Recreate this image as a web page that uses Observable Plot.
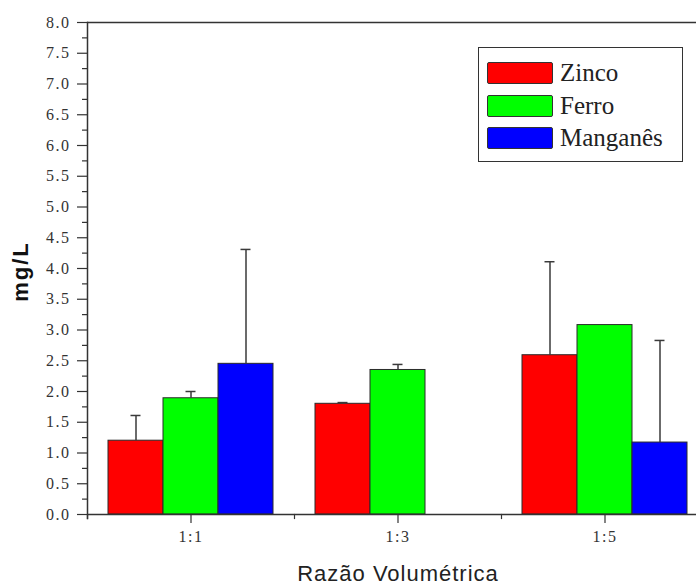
<!DOCTYPE html>
<html><head><meta charset="utf-8">
<script src="https://cdn.jsdelivr.net/npm/d3@7"></script>
<script src="https://cdn.jsdelivr.net/npm/@observablehq/plot@0.6"></script>
<style>
html,body{margin:0;padding:0;background:#fff;overflow:hidden}
#wrap{position:relative;width:696px;height:586px;overflow:hidden}
#wrap svg{max-width:none !important;width:708px !important;height:586px !important}
#legend{position:absolute;left:478px;top:47px;width:203px;height:113px;border:1.5px solid #333;background:#fff;box-sizing:content-box}
.row{position:absolute;left:8px;height:24px;display:flex;align-items:center}
.sw{width:66px;height:22px;border:1px solid #333;border-radius:2px;box-sizing:border-box}
.lb{margin-left:7px;font-family:"Liberation Serif",serif;font-size:25px;color:#222;line-height:24px}
</style></head><body><div id="wrap"></div>
<script>
const categories = ["1:1", "1:3", "1:5"];
const series = ["Zinco", "Ferro", "Manganês"];
const colors = ["#ff0000", "#00ff00", "#0000ff"];
const zinco = [1.20, 1.80, 2.59];
const zincoErr = [0.41, 0.02, 1.52];
const ferro = [1.89, 2.35, 3.08];
const ferroErr = [0.11, 0.09, null];
const manganes = [2.45, null, 1.17];
const manganesErr = [1.86, null, 1.66];
const yTicks = [0, 0.5, 1, 1.5, 2, 2.5, 3, 3.5, 4, 4.5, 5, 5.5, 6, 6.5, 7, 7.5, 8];
const yMinor = [0.25, 0.75, 1.25, 1.75, 2.25, 2.75, 3.25, 3.75, 4.25, 4.75, 5.25, 5.75, 6.25, 6.75, 7.25, 7.75];
const xTitle = "Razão Volumétrica";
const yTitle = "mg/L";

const values = [zinco, ferro, manganes];
const errs = [zincoErr, ferroErr, manganesErr];
const rows = [];
categories.forEach((c, i) => {
  series.forEach((s, j) => {
    if (values[j][i] != null) rows.push({cat: c, series: s, value: values[j][i], err: errs[j][i]});
  });
});
const errRows = rows.filter(d => d.err != null && d.err > 0);

const serif = "Liberation Serif, Times New Roman, serif";
const sans = "Liberation Sans, Arial, sans-serif";

const plot = Plot.plot({
  width: 708, height: 586,
  marginTop: 22, marginBottom: 72, marginLeft: 87, marginRight: 0,
  style: {background: "transparent", overflow: "visible"},
  fx: {domain: categories, padding: 0, label: null},
  x: {domain: series, paddingInner: 0, paddingOuter: 0.373, axis: null},
  y: {domain: [0, 8], label: null},
  color: {domain: series, range: colors},
  marks: [
    Plot.barY(rows, {fx: "cat", x: "series", y: "value", fill: "series", stroke: "#2a2a2a", strokeWidth: 1}),
    Plot.ruleX(errRows, {fx: "cat", x: "series", y1: "value", y2: d => d.value + d.err, stroke: "#3a3a3a", strokeWidth: 1.5}),
    Plot.tickY(errRows, {fx: "cat", x: "series", y: d => d.value + d.err, stroke: "#3a3a3a", strokeWidth: 1.5, insetLeft: 22.5, insetRight: 22.5}),
    Plot.ruleY([0], {stroke: "#333", strokeWidth: 1.5}),
    Plot.ruleY([8], {stroke: "#333", strokeWidth: 1.5}),
    Plot.frame({anchor: "left", facetAnchor: "left", insetBottom: -4, stroke: "#333", strokeWidth: 1.5}),
    Plot.frame({anchor: "left", insetTop: 492, insetBottom: -4, stroke: "#333", strokeWidth: 1.2}),
    Plot.axisY(yTicks, {tickSize: 10, tickPadding: 7, tickFormat: d => d.toFixed(1), fill: "#333", stroke: "#333", strokeWidth: 1.2, label: null}),
    Plot.axisY(yMinor, {tickSize: 5, tickFormat: () => "", stroke: "#333", strokeWidth: 1.2, label: null}),
    Plot.axisFx({anchor: "bottom", tickSize: 9, tickPadding: 7, fill: "#333", stroke: "#333", strokeWidth: 1.2, label: null}),
    Plot.text([yTitle], {fx: () => categories[0], frameAnchor: "left", textAnchor: "middle", dx: -67, dy: 3, rotate: -90, text: d => d, fill: "#111"}),
    Plot.text([xTitle], {fx: () => categories[1], frameAnchor: "bottom", lineAnchor: "middle", dy: 59, text: d => d, fill: "#222"})
  ]
});
const wrap = document.getElementById("wrap");
wrap.appendChild(plot);
const svg = d3.select(plot);
svg.selectAll("text").each(function() {
  const t = d3.select(this);
  const s = t.text();
  if (/^\d\.\d$/.test(s) || /^1:\d$/.test(s)) {
    t.style("font-family", serif).style("font-size", "16px").style("letter-spacing", "1.5px");
  } else if (s === yTitle) {
    t.style("font-family", sans).style("font-size", "22px").style("font-weight", "bold").style("letter-spacing", "2px");
  } else if (s === xTitle) {
    t.style("font-family", sans).style("font-size", "22px").style("letter-spacing", "1px");
  }
});

const legend = d3.select(wrap).append("div").attr("id", "legend");
series.forEach((s, j) => {
  const r = legend.append("div").attr("class", "row").style("top", (13 + j * 32.5) + "px");
  r.append("div").attr("class", "sw").style("background", colors[j]);
  r.append("span").attr("class", "lb").text(s);
});
</script></body></html>
